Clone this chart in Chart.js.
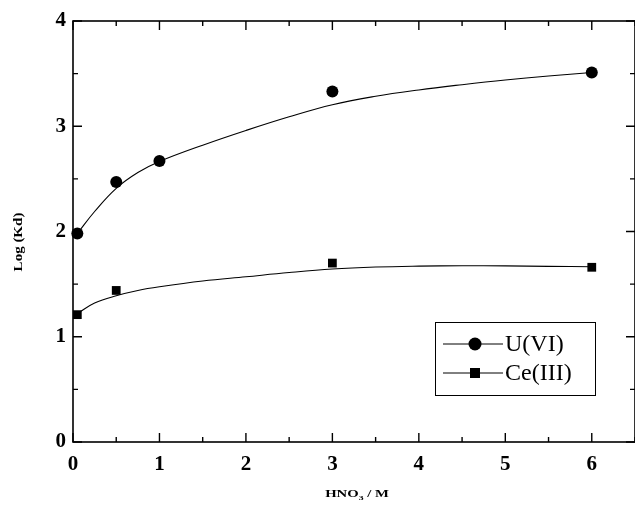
<!DOCTYPE html>
<html>
<head>
<meta charset="utf-8">
<script src="https://cdn.jsdelivr.net/npm/chart.js@4/dist/chart.umd.min.js"></script>
<style>
  html, body { margin: 0; padding: 0; background: #fff; }
  #wrap { width: 635px; height: 506px; }
</style>
</head>
<body>
<div id="wrap"><canvas id="myChart" width="635" height="506"></canvas></div>
<script>
// measured points
const uAcid = [0.05, 0.5, 1, 3, 6];
const uLogKd = [1.98, 2.47, 2.67, 3.33, 3.51];
const ceAcid = [0.05, 0.5, 3, 6];
const ceLogKd = [1.21, 1.44, 1.70, 1.66];

// fitted curves
const fitAcid = [0.05, 0.25, 0.5, 0.75, 1, 1.5, 2, 2.5, 3, 3.5, 4, 4.5, 5, 5.5, 6];
const uFit = [1.98, 2.19, 2.41, 2.56, 2.665, 2.82, 2.96, 3.09, 3.205, 3.285, 3.345, 3.395, 3.44, 3.478, 3.51];
const ceFit = [1.22, 1.32, 1.39, 1.44, 1.475, 1.53, 1.57, 1.61, 1.643, 1.662, 1.671, 1.675, 1.673, 1.669, 1.665];

const xTicks = [0, 1, 2, 3, 4, 5, 6];
const yTicks = [0, 1, 2, 3, 4];

const serif = "'Liberation Serif', 'Times New Roman', serif";

function toPoints(xs, ys) {
  return xs.map((x, i) => ({ x: x, y: ys[i] }));
}

// frame, inward ticks, axis titles and boxed legend
const framePlugin = {
  id: 'frame',
  afterDraw(chart) {
    const ctx = chart.ctx;
    const a = chart.chartArea;
    const xs = chart.scales.x;
    const ys = chart.scales.y;
    ctx.save();
    ctx.strokeStyle = '#000';
    ctx.lineWidth = 1.6;
    ctx.strokeRect(a.left, a.top, a.right - a.left, a.bottom - a.top);

    ctx.lineWidth = 1.4;
    ctx.beginPath();
    for (let v = 0; v <= 6.5; v += 0.5) {
      const px = xs.getPixelForValue(v);
      const len = Number.isInteger(v) ? 9 : 5;
      ctx.moveTo(px, a.bottom); ctx.lineTo(px, a.bottom - len);
      ctx.moveTo(px, a.top); ctx.lineTo(px, a.top + len);
    }
    for (let v = 0; v <= 4; v += 0.5) {
      const py = ys.getPixelForValue(v);
      const len = Number.isInteger(v) ? 9 : 5;
      ctx.moveTo(a.left, py); ctx.lineTo(a.left + len, py);
      ctx.moveTo(a.right, py); ctx.lineTo(a.right - len, py);
    }
    ctx.stroke();

    // x title with subscript
    ctx.fillStyle = '#000';
    ctx.save();
    ctx.translate(357, 494);
    ctx.scale(1.4, 1);
    ctx.textBaseline = 'middle';
    const p1 = 'HNO', p2 = '3', p3 = ' / M';
    ctx.font = 'bold 10.5px ' + serif;
    const w1 = ctx.measureText(p1).width;
    const w3 = ctx.measureText(p3).width;
    ctx.font = 'bold 7px ' + serif;
    const w2 = ctx.measureText(p2).width;
    const x0 = -(w1 + w2 + w3) / 2;
    ctx.font = 'bold 10.5px ' + serif;
    ctx.fillText(p1, x0, 0);
    ctx.font = 'bold 7px ' + serif;
    ctx.fillText(p2, x0 + w1, 4);
    ctx.font = 'bold 10.5px ' + serif;
    ctx.fillText(p3, x0 + w1 + w2, 0);
    ctx.restore();

    // y title
    ctx.save();
    ctx.translate(19, 242);
    ctx.rotate(-Math.PI / 2);
    ctx.scale(1.25, 1);
    ctx.font = 'bold 12px ' + serif;
    ctx.textAlign = 'center';
    ctx.textBaseline = 'middle';
    ctx.fillText('Log (Kd)', 0, 0);
    ctx.restore();

    // legend box
    const bx = 435, by = 322, bw = 160, bh = 73;
    ctx.lineWidth = 1;
    ctx.strokeRect(bx + 0.5, by + 0.5, bw, bh);
    const entries = chart.data.datasets.filter((d) => d.inLegend);
    entries.forEach((d, i) => {
      const cy = by + 22 + i * 29;
      ctx.lineWidth = 1;
      ctx.beginPath();
      ctx.moveTo(bx + 8, cy); ctx.lineTo(bx + 68, cy);
      ctx.stroke();
      if (d.pointStyle === 'rect') {
        ctx.fillRect(bx + 40 - 5, cy - 5, 10, 10);
      } else {
        ctx.beginPath();
        ctx.arc(bx + 40, cy, 6.5, 0, Math.PI * 2);
        ctx.fill();
      }
      ctx.font = '24px ' + serif;
      ctx.textBaseline = 'middle';
      ctx.textAlign = 'left';
      ctx.fillText(d.label, bx + 70, cy + 1);
    });
    ctx.restore();
  }
};

const chartTarget = document.querySelector('#myChart');
const myChart = new Chart(chartTarget, {
  type: 'scatter',
  data: {
    datasets: [
      {
        label: 'U(VI) fit', data: toPoints(fitAcid, uFit), showLine: true,
        borderColor: '#000', borderWidth: 1.1, pointRadius: 0,
        tension: 0.4, fill: false, clip: false
      },
      {
        label: 'Ce(III) fit', data: toPoints(fitAcid, ceFit), showLine: true,
        borderColor: '#000', borderWidth: 1.1, pointRadius: 0,
        tension: 0.4, fill: false, clip: false
      },
      {
        label: 'U(VI)', inLegend: true, data: toPoints(uAcid, uLogKd), clip: false,
        pointStyle: 'circle', pointRadius: 6, backgroundColor: '#000', borderColor: '#000', borderWidth: 0
      },
      {
        label: 'Ce(III)', inLegend: true, data: toPoints(ceAcid, ceLogKd), clip: false,
        pointStyle: 'rect', pointRadius: 6.2, backgroundColor: '#000', borderColor: '#000', borderWidth: 0
      }
    ]
  },
  options: {
    responsive: false,
    animation: false,
    devicePixelRatio: 1,
    layout: { autoPadding: false, padding: { top: 21, right: -2, left: 0, bottom: 0 } },
    plugins: { legend: { display: false }, tooltip: { enabled: false } },
    scales: {
      x: {
        type: 'linear', min: 0, max: 6.5,
        afterBuildTicks: (s) => { s.ticks = xTicks.map((v) => ({ value: v })); },
        afterFit: (s) => { s.height = 64; s.paddingRight = 0; s.paddingLeft = 0; },
        grid: { display: false, drawTicks: false },
        border: { display: false },
        ticks: { color: '#000', padding: 10, maxRotation: 0, font: { family: serif, size: 21, weight: 'bold' } }
      },
      y: {
        type: 'linear', min: 0, max: 4,
        afterBuildTicks: (s) => { s.ticks = yTicks.map((v) => ({ value: v })); },
        afterFit: (s) => { s.width = 73; s.paddingTop = 0; s.paddingBottom = 0; },
        grid: { display: false, drawTicks: false },
        border: { display: false },
        ticks: { color: '#000', padding: 7, font: { family: serif, size: 21, weight: 'bold' } }
      }
    }
  },
  plugins: [framePlugin]
});
</script>
</body>
</html>
